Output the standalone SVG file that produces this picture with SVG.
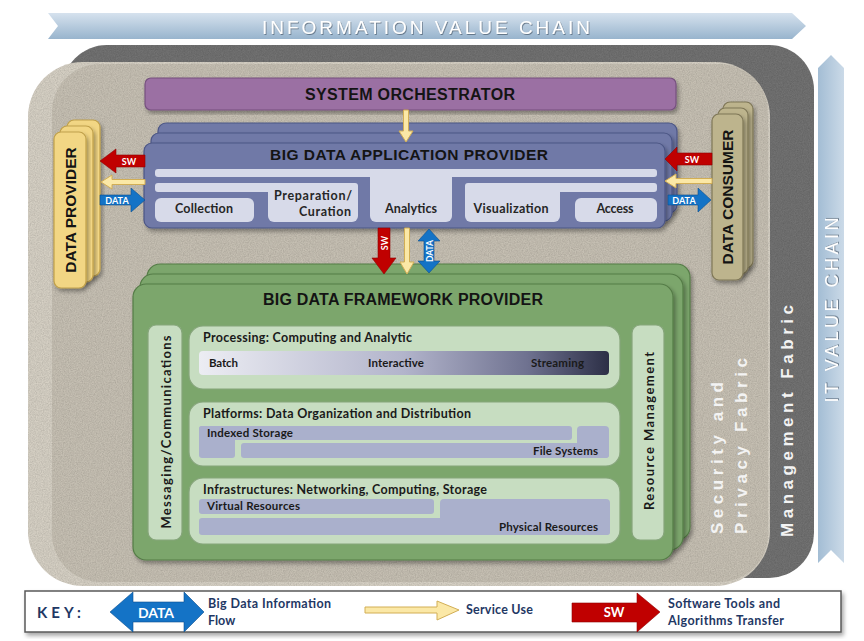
<svg xmlns="http://www.w3.org/2000/svg" width="864" height="641" viewBox="0 0 864 641">
<defs>
<style>
.ar{font-family:"Liberation Sans",Arial,sans-serif;font-weight:bold;fill:#141414}
.cb{font-family:Lato,"Open Sans",sans-serif;font-weight:bold;fill:#1a1a1a}
.cr{font-family:Lato,"Open Sans",sans-serif;font-weight:bold;fill:#262626}
.fab{font-family:"Liberation Sans",Arial,sans-serif;font-weight:bold;fill:#f3f3f3}
.key{font-family:Lato,"Open Sans",sans-serif;font-weight:bold;fill:#1f3864}
.wl{font-family:Lato,"Open Sans",sans-serif;font-weight:bold;fill:#ffffff}
.red{fill:#c00000;stroke:#8e0000;stroke-width:0.6}
.blue{fill:#1473c6;stroke:#0b4f8e;stroke-width:0.6}
.yel{fill:#fbe8a6;stroke:#d2ae55;stroke-width:1}
.lav{fill:#d7dae9}
.bar{fill:#aab0cc}
.lg{fill:#c7ddc1;stroke:#86a57b;stroke-width:1.2}
.gr{fill:#7ca66c;stroke:#557c47;stroke-width:1.2}
.ab{fill:#6f79a7;stroke:#4c5685;stroke-width:1.2}
.yp{fill:#f2d684;stroke:#c0a04a;stroke-width:1.2}
.kh{fill:#bdb48d;stroke:#7f7757;stroke-width:1.2}
</style>
<linearGradient id="gBanner" x1="0" y1="0" x2="0" y2="1"><stop offset="0" stop-color="#d6e2ee"/><stop offset="1" stop-color="#98b4cd"/></linearGradient>
<linearGradient id="gBannerV" x1="0" y1="0" x2="1" y2="0"><stop offset="0" stop-color="#a3bdd4"/><stop offset="1" stop-color="#cbdae8"/></linearGradient>
<linearGradient id="gProc" x1="0" y1="0" x2="1" y2="0"><stop offset="0" stop-color="#ecedf3"/><stop offset="0.5" stop-color="#b2b4cb"/><stop offset="0.8" stop-color="#6f7290"/><stop offset="1" stop-color="#2c2f46"/></linearGradient>
<filter id="sh" x="-10%" y="-10%" width="125%" height="125%"><feDropShadow dx="2" dy="3" stdDeviation="2" flood-color="#000" flood-opacity="0.35"/></filter>
<filter id="tsh" x="-5%" y="-20%" width="110%" height="150%"><feDropShadow dx="0.8" dy="1" stdDeviation="0.6" flood-color="#4a5a6a" flood-opacity="0.7"/></filter>
<filter id="tex" x="0" y="0" width="100%" height="100%">
<feTurbulence type="fractalNoise" baseFrequency="0.85" numOctaves="3" seed="4" result="n"/>
<feColorMatrix in="n" type="matrix" values="0 0 0 0 0  0 0 0 0 0  0 0 0 0 0  0.4 0 0 0 -0.1" result="a"/>
<feComposite in="a" in2="SourceGraphic" operator="in" result="m"/>
<feMerge><feMergeNode in="SourceGraphic"/><feMergeNode in="m"/></feMerge>
</filter>
</defs>

<rect width="864" height="641" fill="#ffffff"/>

<g id="info-value-chain">
<polygon points="48,13 792,13 806,26 792,39 48,39 58,26" fill="url(#gBanner)"/>
<text x="426" y="34" text-anchor="middle" font-family="Liberation Sans, Arial, sans-serif" font-size="19" fill="#ffffff" textLength="328" filter="url(#tsh)">INFORMATION VALUE CHAIN</text>
</g>

<g id="it-value-chain">
<polygon points="818,68 831,55 844,68 844,563 831,550 818,563" fill="url(#gBannerV)"/>
<text transform="translate(838,310) rotate(-90)" text-anchor="middle" font-family="Liberation Sans, Arial, sans-serif" font-size="18" fill="#ffffff" textLength="185" filter="url(#tsh)">IT VALUE CHAIN</text>
</g>

<g id="management-fabric">
<rect x="62" y="45" width="752" height="533" rx="45" fill="#727272" filter="url(#tex)"/>
<text class="fab" transform="translate(793,537) rotate(-90)" font-size="17" textLength="232">Management Fabric</text>
</g>

<g id="security-privacy-fabric">
<rect x="28" y="62" width="742" height="524" rx="55" fill="#d6d0c4" filter="url(#tex)"/>
<rect x="52" y="64" width="716" height="518" rx="48" fill="#c6c0b3" filter="url(#tex)"/>
<text class="fab" transform="translate(723,534) rotate(-90)" font-size="17" textLength="152">Security and</text>
<text class="fab" transform="translate(747,534) rotate(-90)" font-size="17" textLength="176">Privacy Fabric</text>
</g>

<g id="system-orchestrator">
<rect x="145" y="78" width="531" height="32" rx="6" fill="#9b6fa3" stroke="#76517f" stroke-width="1.2" filter="url(#sh)"/>
<text class="ar" x="410" y="100" text-anchor="middle" font-size="16" textLength="210">SYSTEM ORCHESTRATOR</text>
</g>

<g id="data-provider">
<rect class="yp" x="67" y="120" width="33" height="156" rx="7" filter="url(#sh)"/>
<rect class="yp" x="60" y="126" width="33" height="156" rx="7" filter="url(#sh)"/>
<rect class="yp" x="54" y="132" width="32" height="156" rx="7" filter="url(#sh)"/>
<text class="ar" transform="translate(76,210) rotate(-90)" text-anchor="middle" font-size="15.5">DATA PROVIDER</text>
</g>

<g id="data-consumer">
<rect class="kh" x="723" y="102" width="30" height="166" rx="7" filter="url(#sh)"/>
<rect class="kh" x="718" y="108" width="30" height="166" rx="7" filter="url(#sh)"/>
<rect class="kh" x="712" y="114" width="31" height="166" rx="7" filter="url(#sh)"/>
<text class="ar" transform="translate(733,197) rotate(-90)" text-anchor="middle" font-size="15.5">DATA CONSUMER</text>
</g>

<g id="application-provider">
<rect class="ab" x="158" y="123" width="519" height="90" rx="8" filter="url(#sh)"/>
<rect class="ab" x="151" y="133" width="521" height="88" rx="8" filter="url(#sh)"/>
<rect class="ab" x="144" y="143" width="521" height="85" rx="8" filter="url(#sh)"/>
<text class="ar" x="409" y="160" text-anchor="middle" font-size="15.5" textLength="278">BIG DATA APPLICATION  PROVIDER</text>
<rect class="lav" x="155" y="169" width="502" height="8" rx="3"/>
<rect class="lav" x="155" y="183" width="203" height="9" rx="3"/>
<rect class="lav" x="268" y="183" width="90" height="39" rx="6"/>
<rect class="lav" x="155" y="198" width="99" height="24" rx="6"/>
<rect class="lav" x="370" y="171" width="82" height="51" rx="6"/>
<rect class="lav" x="465" y="183" width="192" height="9" rx="3"/>
<rect class="lav" x="465" y="183" width="95" height="39" rx="6"/>
<rect class="lav" x="575" y="198" width="82" height="24" rx="6"/>
<text class="cr" x="204" y="213" text-anchor="middle" font-size="12.5" textLength="58">Collection</text>
<text class="cr" x="313" y="200" text-anchor="middle" font-size="12.5" textLength="78">Preparation/</text>
<text class="cr" x="325" y="216" text-anchor="middle" font-size="12.5" textLength="52">Curation</text>
<text class="cr" x="411" y="213" text-anchor="middle" font-size="12.5" textLength="52">Analytics</text>
<text class="cr" x="511" y="213" text-anchor="middle" font-size="12.5" textLength="75">Visualization</text>
<text class="cr" x="615" y="213" text-anchor="middle" font-size="12.5" textLength="37">Access</text>
</g>

<g id="framework-provider">
<rect class="gr" x="147" y="264" width="543" height="276" rx="13" filter="url(#sh)"/>
<rect class="gr" x="140" y="274" width="543" height="276" rx="13" filter="url(#sh)"/>
<rect class="gr" x="133" y="284" width="540" height="276" rx="13" filter="url(#sh)"/>
<text class="ar" x="403" y="305" text-anchor="middle" font-size="16" textLength="280">BIG DATA FRAMEWORK PROVIDER</text>
</g>

<g id="messaging">
<rect class="lg" x="148" y="325" width="34" height="215" rx="8"/>
<text class="cb" transform="translate(171,432) rotate(-90)" text-anchor="middle" font-size="13" textLength="193">Messaging/Communications</text>
</g>

<g id="resource-management">
<rect class="lg" x="632" y="325" width="32" height="215" rx="8"/>
<text class="cb" transform="translate(654,431) rotate(-90)" text-anchor="middle" font-size="13" textLength="158">Resource Management</text>
</g>

<g id="processing">
<rect class="lg" x="189" y="326" width="431" height="63" rx="14"/>
<text class="cb" x="203" y="342" font-size="12.5" textLength="209">Processing: Computing and Analytic</text>
<rect x="199" y="351" width="410" height="24" rx="4" fill="url(#gProc)"/>
<text class="cb" x="209" y="367" font-size="11.5" textLength="29">Batch</text>
<text class="cb" x="368" y="367" font-size="11.5" textLength="56">Interactive</text>
<text class="cb" x="531" y="367" font-size="11.5" textLength="53">Streaming</text>
</g>

<g id="platforms">
<rect class="lg" x="189" y="402" width="431" height="64" rx="14"/>
<text class="cb" x="203" y="418" font-size="12.5" textLength="268">Platforms: Data Organization and Distribution</text>
<rect class="bar" x="199" y="426" width="373" height="14" rx="3"/>
<rect class="bar" x="199" y="426" width="36" height="32" rx="3"/>
<rect class="bar" x="241" y="443" width="368" height="15" rx="3"/>
<rect class="bar" x="577" y="426" width="32" height="32" rx="4"/>
<text class="cb" x="207" y="437" font-size="11.5" textLength="86">Indexed Storage</text>
<text class="cb" x="598" y="455" text-anchor="end" font-size="11.5" textLength="65">File Systems</text>
</g>

<g id="infrastructures">
<rect class="lg" x="189" y="478" width="431" height="66" rx="14"/>
<text class="cb" x="203" y="494" font-size="12.5" textLength="284">Infrastructures: Networking, Computing, Storage</text>
<rect class="bar" x="199" y="499" width="235" height="15" rx="3"/>
<rect class="bar" x="440" y="499" width="170" height="36" rx="4"/>
<rect class="bar" x="199" y="518" width="411" height="17" rx="3"/>
<text class="cb" x="207" y="510" font-size="11.5" textLength="93">Virtual Resources</text>
<text class="cb" x="598" y="531" text-anchor="end" font-size="11.5" textLength="99">Physical Resources</text>
</g>

<g id="connectors">
<path class="yel" d="M403.5,110 L408.5,110 L408.5,131 L413,131 L406,142 L399,131 L403.5,131 Z"/>
<path class="red" d="M100,161 L116,149 L116,155 L145,155 L145,167 L116,167 L116,173 Z"/>
<text class="wl" x="129" y="165" text-anchor="middle" font-size="9">SW</text>
<path class="yel" d="M101,182 L112,175 L112,179.5 L145,179.5 L145,184.5 L112,184.5 L112,189 Z"/>
<path class="blue" d="M100,195 L131,195 L131,188 L145,200 L131,212 L131,205 L100,205 Z"/>
<text class="wl" x="117" y="204" text-anchor="middle" font-size="9">DATA</text>
<path class="red" d="M665,159 L677,147 L677,153 L712,153 L712,165 L677,165 L677,171 Z"/>
<text class="wl" x="692" y="163" text-anchor="middle" font-size="9">SW</text>
<path class="yel" d="M665,181 L676,174 L676,178.5 L712,178.5 L712,183.5 L676,183.5 L676,188 Z"/>
<path class="blue" d="M668,195 L698,195 L698,188 L711,200 L698,212 L698,205 L668,205 Z"/>
<text class="wl" x="684" y="204" text-anchor="middle" font-size="9">DATA</text>
<path class="red" d="M378,228 L390,228 L390,258 L396,258 L384,274 L372,258 L378,258 Z"/>
<text class="wl" transform="translate(387.5,243) rotate(-90)" text-anchor="middle" font-size="9">SW</text>
<path class="yel" d="M404.5,228 L409.5,228 L409.5,262 L414,262 L407,274 L400,262 L404.5,262 Z"/>
<path class="blue" d="M429,229 L440,241 L434,241 L434,261 L440,261 L429,273 L418,261 L424,261 L424,241 L418,241 Z"/>
<text class="wl" transform="translate(432.5,251) rotate(-90)" text-anchor="middle" font-size="8.5">DATA</text>
</g>

<g id="key">
<rect x="25" y="591" width="816" height="41" fill="#ffffff" stroke="#5a5a5a" stroke-width="1.5" filter="url(#sh)"/>
<text class="key" x="37" y="618" font-size="15" letter-spacing="4">KEY:</text>
<path class="blue" d="M110,612 L133,592 L133,602 L184,602 L184,592 L204,612 L184,632 L184,622 L133,622 L133,632 Z"/>
<text class="wl" x="156" y="618" text-anchor="middle" font-size="14">DATA</text>
<text class="key" x="208" y="608" font-size="12.5" textLength="123">Big Data Information</text>
<text class="key" x="208" y="625" font-size="12.5">Flow</text>
<path class="yel" d="M365,607 L437,607 L437,601 L459,610 L437,620 L437,613 L365,613 Z"/>
<text class="key" x="466" y="614" font-size="12.5" textLength="67">Service Use</text>
<path class="red" d="M572,603 L637,603 L637,593 L660,612 L637,632 L637,622 L572,622 Z"/>
<text class="wl" x="614" y="617" text-anchor="middle" font-size="13">SW</text>
<text class="key" x="668" y="608" font-size="12.5" textLength="112">Software Tools and</text>
<text class="key" x="668" y="625" font-size="12.5" textLength="116">Algorithms Transfer</text>
</g>
</svg>
